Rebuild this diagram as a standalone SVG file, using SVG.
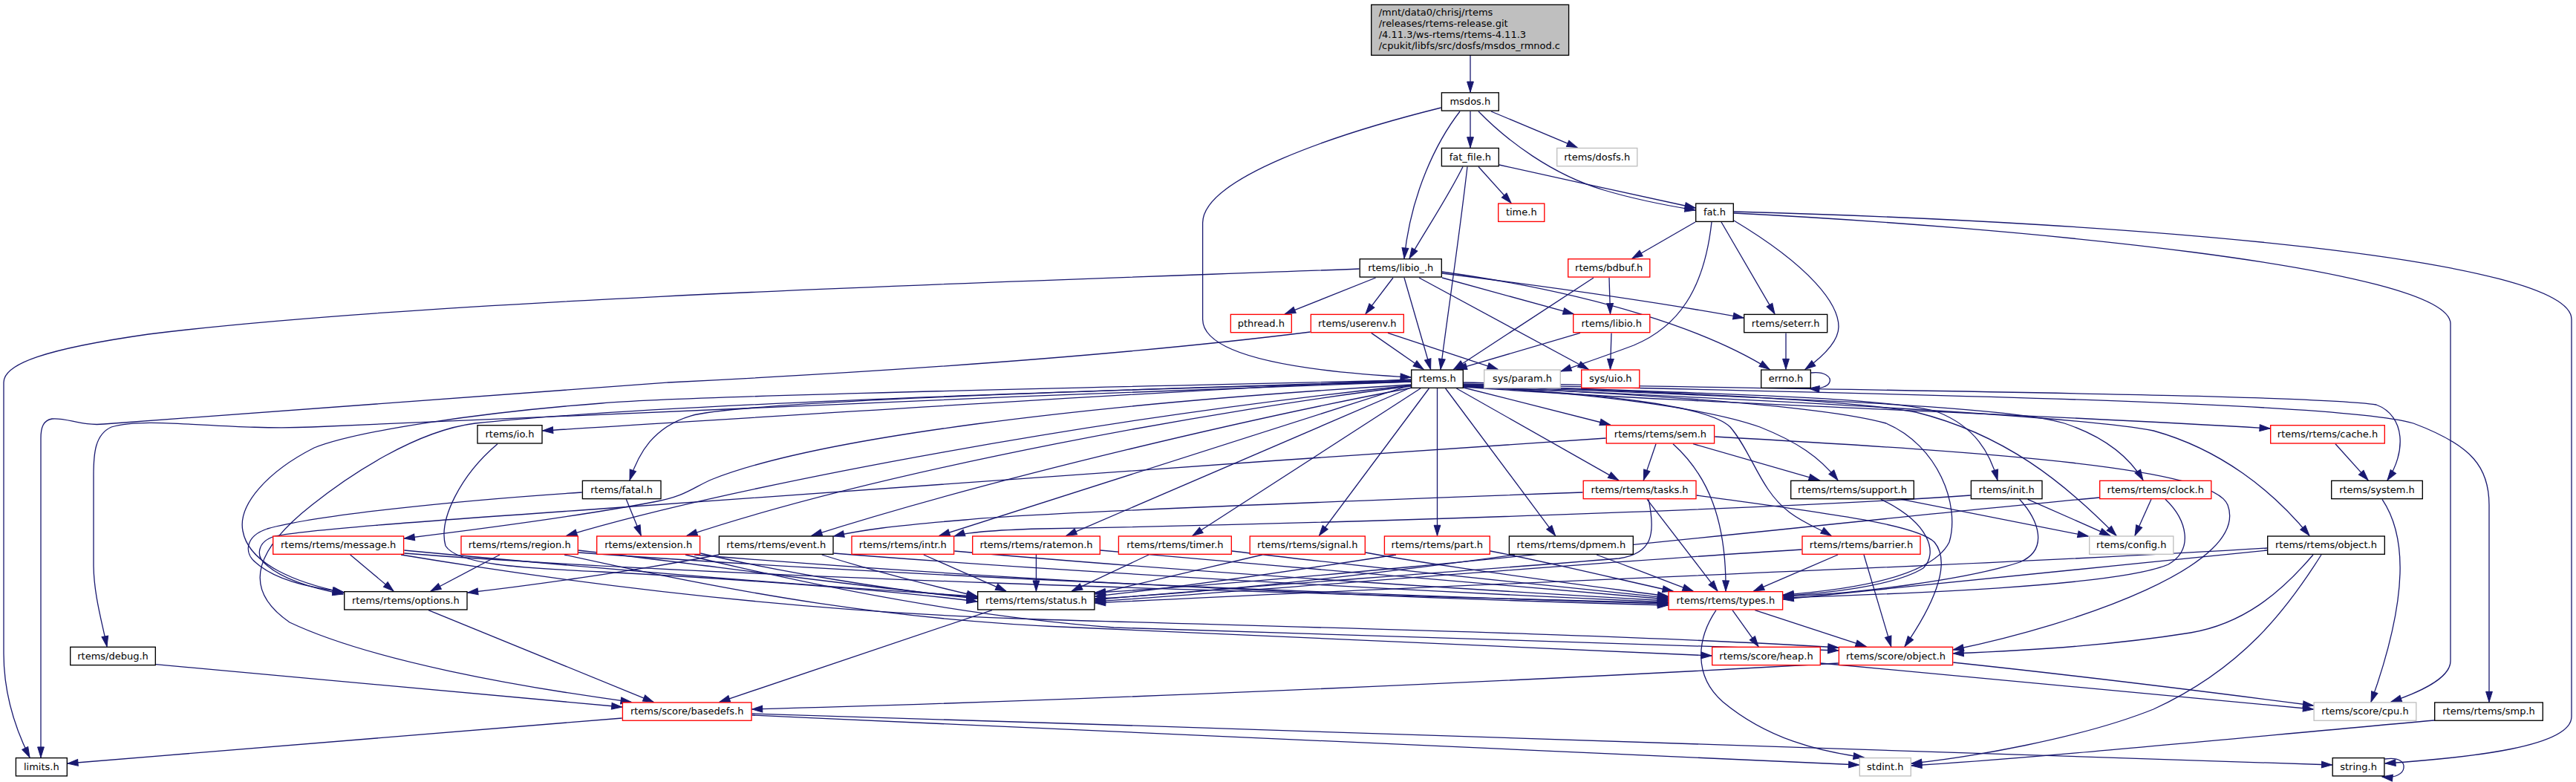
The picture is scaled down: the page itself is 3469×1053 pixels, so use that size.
<svg xmlns="http://www.w3.org/2000/svg" width="3469" height="1053" viewBox="0 0 3469 1053">
<style>
.bg{fill:#ffffff}
.n rect{fill:#ffffff;stroke-width:1.35}
.b rect{stroke:#000000}
.r rect{stroke:#ff0000}
.g rect{stroke:#bfbfbf}
.top rect{fill:#bfbfbf;stroke:#000000;stroke-width:1.35}
text{font-family:"DejaVu Sans","Liberation Sans",sans-serif;font-size:13px;fill:#000000}
.n text{text-anchor:middle}
.e path{fill:none;stroke:#191970;stroke-width:1.3;marker-end:url(#a)}
</style>
<defs>
<marker id="a" markerUnits="userSpaceOnUse" viewBox="0 0 14 10" refX="14" refY="5" markerWidth="14" markerHeight="10" orient="auto" overflow="visible">
<path d="M0,0.6 L14,5 L0,9.4 z" fill="#191970" stroke="#191970" stroke-width="1"/>
</marker>
</defs>
<rect class="bg" x="0" y="0" width="3469" height="1053"/>
<g id="edges" class="e">
<path d="M1980,75 L1980,124"/>
<path d="M1980,150 L1980,198.7"/>
<path d="M2008,150 L2124,198.7"/>
<path d="M1991,150 C2030,190 2090,235 2160,256 C2200,268 2240,276 2283,283"/>
<path d="M2019,222 C2100,240 2200,262 2283,280"/>
<path d="M1966,150 C1935,190 1900,260 1891,348"/>
<path d="M1970,224.5 C1950,265 1920,310 1898,348"/>
<path d="M1976,224.5 C1965,320 1950,420 1940,497.3"/>
<path d="M1991,224.5 L2035,273.4"/>
<path d="M1940.7,145 C1800,180 1620,240 1619.6,300 L1619.6,430 C1620,480 1750,500 1900,508"/>
<path d="M2283,299 L2198,348"/>
<path d="M2305,299 C2295,390 2260,440 2200,465 C2160,480 2130,490 2102,500"/>
<path d="M2318,299 L2390,422.7"/>
<path d="M2335,297 C2440,360 2476,410 2476,440 C2476,460 2455,480 2431,497.3"/>
<path d="M2335,287 C2700,305 3300,360 3300,436 L3300,890 C3300,915 3250,935 3220,945"/>
<path d="M2335,285 C2900,300 3463,350 3463,430 L3463,965 C3463,1005 3330,1020 3212,1028"/>
<path d="M1830.5,362 C1500,375 600,400 200,450 C60,470 5,490 5,515 L5,880 C5,940 25,990 40,1019.9"/>
<path d="M1852.6,374 L1730.6,422.7"/>
<path d="M1876,374 L1839,422.7"/>
<path d="M1891,374 L1926.6,497.3"/>
<path d="M1942,374 L2119,422.7"/>
<path d="M1911,374 L2139,497.3"/>
<path d="M1942,368 C2100,388 2250,410 2348,428"/>
<path d="M1942,366 C2150,395 2300,445 2383,497.3"/>
<path d="M2146,374 L1957.7,497.3"/>
<path d="M2167,374 L2168.5,422.7"/>
<path d="M1846.7,448.4 L1917,497.3"/>
<path d="M1869,448.4 L2017,497.3"/>
<path d="M1764.6,447 C1500,480 1200,500 900,515 C600,535 300,560 140,571 C110,574 90,562 70,564 C58,566 55,576 55,590 L55,1019.9"/>
<path d="M2128,448.4 L1961.4,497.3"/>
<path d="M2170,448.4 L2168.5,497.3"/>
<path d="M2405,448.4 L2405,497.3"/>
<path d="M2439,502 C2458,500 2466,508 2464,514 C2462,521 2450,524 2436,523"/>
<path d="M1935.5,523 L1935.5,721.3"/>
<path d="M1946.6,523 L2094.6,721.3"/>
<path d="M1924.4,523 L1776.4,721.3"/>
<path d="M1913,523 L1606,721.3"/>
<path d="M1902,521 L1436,721.3"/>
<path d="M1900,518.5 L1265,721.3"/>
<path d="M1961.4,523 L2179.6,646.6"/>
<path d="M1971,522 L2168.5,572"/>
<path d="M1900,511 C1500,530 900,570 730.7,580"/>
<path d="M1900,513 C1500,525 1000,540 930,560 C880,575 860,610 848,646.6"/>
<path d="M1900,514 C1400,530 700,565 420,575 C300,580 200,560 150,575 C128,585 126,610 126,640 L126,760 C126,800 138,840 144,870.6"/>
<path d="M1900,518 C1450,545 1100,590 960,645 C935,655 925,668 880,676 C780,695 650,712 544.3,725"/>
<path d="M1900,519 C1500,560 1000,650 763,721.3"/>
<path d="M1900,520 C1650,550 1200,630 925,721.3"/>
<path d="M1902,522 C1700,560 1350,640 1093,721.3"/>
<path d="M1900,512 C1300,525 900,535 810,543 C650,555 480,580 423,603 C360,635 320,680 327,715 C335,760 400,785 463,798"/>
<path d="M1900,514 C1300,530 850,548 640,570 C560,580 470,640 420,680 C350,735 320,790 390,838 C500,890 700,925 850,945.3"/>
<path d="M1971,521 C2300,545 2700,555 3057,577"/>
<path d="M1971,515 C2400,525 3100,530 3200,545 C3240,560 3240,610 3215,646.6"/>
<path d="M1971,517 C2500,530 3150,540 3250,570 C3330,600 3352,630 3352,680 L3352,945.3"/>
<path d="M1971,520 C2400,540 2800,560 2900,580 C2990,605 3060,660 3110,721.3"/>
<path d="M1971,519 C2350,535 2700,545 2780,570 C2840,590 2870,620 2886,646.6"/>
<path d="M1971,518 C2300,530 2550,535 2610,555 C2660,575 2680,610 2690,646.6"/>
<path d="M1971,518 C2300,530 2500,540 2580,555 C2700,585 2780,650 2850,721.3"/>
<path d="M1971,520 C2150,530 2300,550 2370,575 C2420,595 2450,615 2475,646.6"/>
<path d="M1971,520 C2150,530 2300,545 2330,575 C2360,610 2370,660 2410,690 C2430,705 2450,712 2466,721.3"/>
<path d="M1971,520 C2200,530 2450,545 2540,570 C2610,600 2640,680 2625,730 C2600,780 2480,795 2401.3,801"/>
<path d="M2230,597.7 L2213.3,646.6"/>
<path d="M2280,597.7 L2450,646.6"/>
<path d="M2253,597.7 C2300,640 2325,700 2324,795.9"/>
<path d="M2309.3,588 C2700,610 2980,630 3000,680 C3030,760 2800,840 2630.3,875"/>
<path d="M2162.6,590 C1700,620 1100,665 810,685 C600,700 420,712 370,722 C345,730 345,750 358,760 C380,780 420,792 462,800"/>
<path d="M2218,672.3 L2313,795.9"/>
<path d="M2220,672.3 C2230,720 2225,745 2180,752 C1900,775 1600,795 1474.6,808"/>
<path d="M2131.5,663 C1800,675 1400,690 1300,700 C1200,708 1160,714 1122.7,722"/>
<path d="M2284.7,667 C2450,690 2580,705 2605,730 C2630,760 2600,820 2565,870.6"/>
<path d="M2560.5,672.3 L2812,722"/>
<path d="M2533,672.3 C2600,705 2610,745 2590,765 C2550,790 2450,800 2401.3,802"/>
<path d="M2730.7,672.3 L2841.7,721.3"/>
<path d="M2719.6,672.3 C2745,700 2760,740 2720,757 C2650,780 2500,800 2401.3,803"/>
<path d="M2653.7,667 C2400,685 1800,705 1400,712 C1330,714 1300,717 1285.3,722"/>
<path d="M2897,672.3 L2875,721.3"/>
<path d="M2916,672.3 C2945,700 2955,740 2920,760 C2850,790 2550,800 2401.3,805"/>
<path d="M2827,670 C2500,700 1800,780 1474.6,798"/>
<path d="M3145,597.7 L3189,646.6"/>
<path d="M3208,672.3 C3240,720 3245,800 3193,945.3"/>
<path d="M3053,741 C2800,765 2550,790 2401.3,807"/>
<path d="M3115,747 C3070,800 3020,840 2950,852 C2850,868 2750,875 2630.3,880"/>
<path d="M3126,747 C3080,820 3020,900 2900,955 C2800,995 2650,1020 2574,1028"/>
<path d="M3053,738 C2700,760 2000,785 1474.6,812"/>
<path d="M2475,747 L2361.7,795.9"/>
<path d="M2510,747 L2546.7,870.6"/>
<path d="M2426.3,740 C2100,760 1700,795 1474.6,810"/>
<path d="M471.7,747 L530,796"/>
<path d="M673,747 L580,796"/>
<path d="M968,747 C850,770 700,790 629.7,798"/>
<path d="M544.3,741 C800,765 1100,790 1316,803"/>
<path d="M544.3,745 C1000,780 1800,800 2246.3,812"/>
<path d="M540,747 C800,790 1100,825 1400,834 C1800,846 2200,855 2475.7,872"/>
<path d="M779,741 C950,760 1150,790 1316,805"/>
<path d="M779,744 C1200,775 1800,800 2246.3,813"/>
<path d="M760,747 C1000,800 1200,835 1450,845 C1800,860 2100,875 2305,883"/>
<path d="M943.3,745 C1050,770 1200,795 1316,806"/>
<path d="M935,747 C1400,785 1900,806 2246.3,815"/>
<path d="M923,747 C1100,790 1300,830 1500,845 C1900,860 2250,866 2475.7,876"/>
<path d="M1106.7,747 C1180,770 1260,790 1316,803"/>
<path d="M1122.7,745 C1500,775 2000,800 2246.3,811"/>
<path d="M670,597.7 C620,640 590,700 600,735 C615,760 700,765 810,770 C1000,780 1200,795 1316,810"/>
<path d="M1243.8,747 L1354.7,795.9"/>
<path d="M1285.3,742 C1600,770 2000,795 2246.3,809"/>
<path d="M1395.4,747 L1395.4,795.9"/>
<path d="M1482,741 C1750,765 2050,790 2246.3,807"/>
<path d="M1547,747 L1443.5,795.9"/>
<path d="M1659,742 C1850,765 2100,790 2246.3,805"/>
<path d="M1700,747 C1600,770 1520,790 1474.6,800"/>
<path d="M1839,744 C1950,765 2150,790 2246.3,803"/>
<path d="M1880,747 C1700,775 1550,795 1474.6,803"/>
<path d="M2007,742 C2100,760 2200,785 2253,796"/>
<path d="M2040,747 C1800,780 1600,800 1474.6,806"/>
<path d="M2150,747 C2200,765 2250,785 2280,795.9"/>
<path d="M843.3,672.3 L863.3,721.3"/>
<path d="M783.7,663 C600,675 420,695 360,712 C330,722 328,745 345,758 C370,780 410,790 462,797"/>
<path d="M577,821.6 L880,945.3"/>
<path d="M1336,821.6 L969,945.3"/>
<path d="M210,894.6 L837.7,952"/>
<path d="M2475.7,893 C2000,920 1400,945 1012.7,955"/>
<path d="M2333,821.6 L2368,870.6"/>
<path d="M2363.3,821.6 L2513,870.6"/>
<path d="M2311,821.6 C2285,860 2280,910 2320,945 C2380,995 2450,1012 2510,1019.9"/>
<path d="M2451.7,893 C2700,915 2950,940 3115.4,955"/>
<path d="M2630.3,892 C2800,910 3000,935 3115.4,950"/>
<path d="M837.7,967 L91,1028"/>
<path d="M1012.7,963 C1600,990 2200,1020 2503.6,1030"/>
<path d="M1012.7,961 C1800,985 2700,1015 3140.5,1030"/>
<path d="M3278,970 C3000,995 2750,1020 2574,1031"/>
<path d="M3211.6,1022 C3232,1019 3238,1027 3237,1034 C3236,1042 3226,1048 3208,1046"/>
</g>
<g id="n_top" class="top"><rect x="1846.7" y="6.4" width="265.9" height="68"/>
<text x="1856.7" y="21">/mnt/data0/chrisj/rtems</text>
<text x="1856.7" y="35.9">/releases/rtems-release.git</text>
<text x="1856.7" y="50.8">/4.11.3/ws-rtems/rtems-4.11.3</text>
<text x="1856.7" y="65.7">/cpukit/libfs/src/dosfs/msdos_rmnod.c</text></g>
<g id="n_msdos" class="n b"><rect x="1941.4" y="124.8" width="76.9" height="24.3"/><text x="1979.85" y="141.1">msdos.h</text></g>
<g id="n_fatfile" class="n b"><rect x="1941.4" y="199.45" width="76.9" height="24.3"/><text x="1979.85" y="215.75">fat_file.h</text></g>
<g id="n_dosfs" class="n g"><rect x="2096.7" y="199.45" width="108.1" height="24.3"/><text x="2150.75" y="215.75">rtems/dosfs.h</text></g>
<g id="n_time" class="n r"><rect x="2017.7" y="274.1" width="62.1" height="24.3"/><text x="2048.75" y="290.4">time.h</text></g>
<g id="n_fat" class="n b"><rect x="2283.7" y="274.1" width="50.6" height="24.3"/><text x="2309" y="290.4">fat.h</text></g>
<g id="n_libio_" class="n b"><rect x="1831.2" y="348.75" width="110.1" height="24.3"/><text x="1886.25" y="365.05">rtems/libio_.h</text></g>
<g id="n_bdbuf" class="n r"><rect x="2111.7" y="348.75" width="110.1" height="24.3"/><text x="2166.75" y="365.05">rtems/bdbuf.h</text></g>
<g id="n_pthread" class="n r"><rect x="1657.3" y="423.4" width="82" height="24.3"/><text x="1698.3" y="439.7">pthread.h</text></g>
<g id="n_userenv" class="n r"><rect x="1765.3" y="423.4" width="125" height="24.3"/><text x="1827.8" y="439.7">rtems/userenv.h</text></g>
<g id="n_libio" class="n r"><rect x="2118.7" y="423.4" width="103.1" height="24.3"/><text x="2170.25" y="439.7">rtems/libio.h</text></g>
<g id="n_seterr" class="n b"><rect x="2348.7" y="423.4" width="112" height="24.3"/><text x="2404.7" y="439.7">rtems/seterr.h</text></g>
<g id="n_rtems" class="n b"><rect x="1900.7" y="498.05" width="69.6" height="24.3"/><text x="1935.5" y="514.35">rtems.h</text></g>
<g id="n_param" class="n g"><rect x="1998.7" y="498.05" width="102.6" height="24.3"/><text x="2050" y="514.35">sys/param.h</text></g>
<g id="n_uio" class="n r"><rect x="2129.7" y="498.05" width="78.1" height="24.3"/><text x="2168.75" y="514.35">sys/uio.h</text></g>
<g id="n_errno" class="n b"><rect x="2371.7" y="498.05" width="66.6" height="24.3"/><text x="2405" y="514.35">errno.h</text></g>
<g id="n_io" class="n b"><rect x="643" y="572.7" width="87" height="24.3"/><text x="686.5" y="589">rtems/io.h</text></g>
<g id="n_sem" class="n r"><rect x="2163.3" y="572.7" width="145.3" height="24.3"/><text x="2235.95" y="589">rtems/rtems/sem.h</text></g>
<g id="n_cache" class="n r"><rect x="3057.7" y="572.7" width="153.6" height="24.3"/><text x="3134.5" y="589">rtems/rtems/cache.h</text></g>
<g id="n_fatal" class="n b"><rect x="784.4" y="647.35" width="105.6" height="24.3"/><text x="837.2" y="663.65">rtems/fatal.h</text></g>
<g id="n_tasks" class="n r"><rect x="2132.2" y="647.35" width="151.8" height="24.3"/><text x="2208.1" y="663.65">rtems/rtems/tasks.h</text></g>
<g id="n_support" class="n b"><rect x="2411.7" y="647.35" width="165.6" height="24.3"/><text x="2494.5" y="663.65">rtems/rtems/support.h</text></g>
<g id="n_init" class="n b"><rect x="2654.4" y="647.35" width="95.6" height="24.3"/><text x="2702.2" y="663.65">rtems/init.h</text></g>
<g id="n_clock" class="n r"><rect x="2827.7" y="647.35" width="150.1" height="24.3"/><text x="2902.75" y="663.65">rtems/rtems/clock.h</text></g>
<g id="n_system" class="n b"><rect x="3139.7" y="647.35" width="122.6" height="24.3"/><text x="3201" y="663.65">rtems/system.h</text></g>
<g id="n_message" class="n r"><rect x="367.7" y="722" width="175.9" height="24.3"/><text x="455.65" y="738.3">rtems/rtems/message.h</text></g>
<g id="n_region" class="n r"><rect x="621" y="722" width="157.3" height="24.3"/><text x="699.65" y="738.3">rtems/rtems/region.h</text></g>
<g id="n_extension" class="n r"><rect x="803.7" y="722" width="138.9" height="24.3"/><text x="873.15" y="738.3">rtems/extension.h</text></g>
<g id="n_event" class="n b"><rect x="968.4" y="722" width="153.6" height="24.3"/><text x="1045.2" y="738.3">rtems/rtems/event.h</text></g>
<g id="n_intr" class="n r"><rect x="1147" y="722" width="137.6" height="24.3"/><text x="1215.8" y="738.3">rtems/rtems/intr.h</text></g>
<g id="n_ratemon" class="n r"><rect x="1309.7" y="722" width="171.6" height="24.3"/><text x="1395.5" y="738.3">rtems/rtems/ratemon.h</text></g>
<g id="n_timer" class="n r"><rect x="1506.4" y="722" width="151.9" height="24.3"/><text x="1582.35" y="738.3">rtems/rtems/timer.h</text></g>
<g id="n_signal" class="n r"><rect x="1683.2" y="722" width="155.1" height="24.3"/><text x="1760.75" y="738.3">rtems/rtems/signal.h</text></g>
<g id="n_part" class="n r"><rect x="1864.4" y="722" width="141.9" height="24.3"/><text x="1935.35" y="738.3">rtems/rtems/part.h</text></g>
<g id="n_dpmem" class="n b"><rect x="2032.4" y="722" width="166.9" height="24.3"/><text x="2115.85" y="738.3">rtems/rtems/dpmem.h</text></g>
<g id="n_barrier" class="n r"><rect x="2427" y="722" width="159" height="24.3"/><text x="2506.5" y="738.3">rtems/rtems/barrier.h</text></g>
<g id="n_config" class="n g"><rect x="2813.7" y="722" width="113.1" height="24.3"/><text x="2870.25" y="738.3">rtems/config.h</text></g>
<g id="n_robject" class="n b"><rect x="3053.7" y="722" width="157.6" height="24.3"/><text x="3132.5" y="738.3">rtems/rtems/object.h</text></g>
<g id="n_options" class="n b"><rect x="463.7" y="796.65" width="165.3" height="24.3"/><text x="546.35" y="812.95">rtems/rtems/options.h</text></g>
<g id="n_status" class="n b"><rect x="1316.7" y="796.65" width="157.2" height="24.3"/><text x="1395.3" y="812.95">rtems/rtems/status.h</text></g>
<g id="n_types" class="n r"><rect x="2247" y="796.65" width="153.6" height="24.3"/><text x="2323.8" y="812.95">rtems/rtems/types.h</text></g>
<g id="n_debug" class="n b"><rect x="94.7" y="871.3" width="114.6" height="24.3"/><text x="152" y="887.6">rtems/debug.h</text></g>
<g id="n_heap" class="n r"><rect x="2305.7" y="871.3" width="145.6" height="24.3"/><text x="2378.5" y="887.6">rtems/score/heap.h</text></g>
<g id="n_sobject" class="n r"><rect x="2476.4" y="871.3" width="153.2" height="24.3"/><text x="2553" y="887.6">rtems/score/object.h</text></g>
<g id="n_basedefs" class="n r"><rect x="838.4" y="945.95" width="173.6" height="24.3"/><text x="925.2" y="962.25">rtems/score/basedefs.h</text></g>
<g id="n_cpu" class="n g"><rect x="3116.1" y="945.95" width="137.7" height="24.3"/><text x="3184.95" y="962.25">rtems/score/cpu.h</text></g>
<g id="n_smp" class="n b"><rect x="3278.7" y="945.95" width="145.6" height="24.3"/><text x="3351.5" y="962.25">rtems/rtems/smp.h</text></g>
<g id="n_limits" class="n b"><rect x="21.4" y="1020.6" width="68.9" height="24.3"/><text x="55.85" y="1036.9">limits.h</text></g>
<g id="n_stdint" class="n g"><rect x="2504.3" y="1020.6" width="69" height="24.3"/><text x="2538.8" y="1036.9">stdint.h</text></g>
<g id="n_string" class="n b"><rect x="3141.2" y="1020.6" width="69.7" height="24.3"/><text x="3176.05" y="1036.9">string.h</text></g>
</svg>
